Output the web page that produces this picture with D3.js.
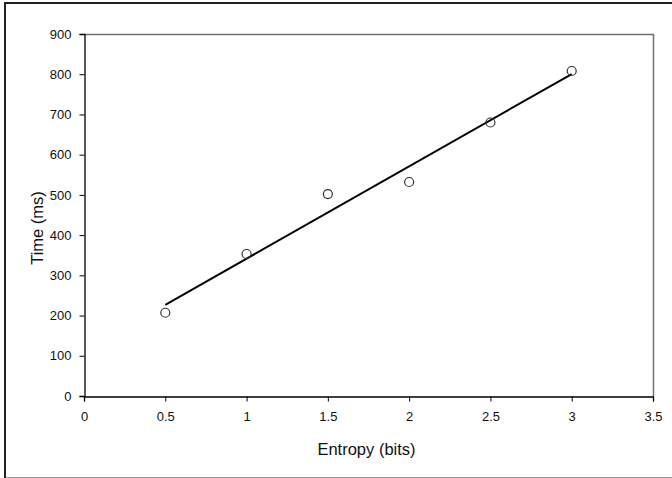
<!DOCTYPE html>
<html>
<head>
<meta charset="utf-8">
<script src="https://cdn.jsdelivr.net/npm/d3@7"></script>
<style>
  body { margin: 0; background: #fff; }
  text { font-family: "Liberation Sans", Arial, sans-serif; }
</style>
</head>
<body>
<svg id="chart" width="672" height="478"></svg>
<script>
// data
const entropy = [0.5, 1, 1.5, 2, 2.5, 3];
const timeMs = [207, 353, 502, 532, 680, 808];
const xTicks = [0, 0.5, 1, 1.5, 2, 2.5, 3, 3.5];
const yTicks = [0, 100, 200, 300, 400, 500, 600, 700, 800, 900];

const svg = d3.select("#chart");
const plot = { left: 84, right: 653, top: 34, bottom: 396 };

const x = d3.scaleLinear().domain([0, 3.5]).range([plot.left, plot.right]);
const y = d3.scaleLinear().domain([0, 900]).range([plot.bottom, plot.top]);

// outer frame of the chart object
svg.append("line").attr("x1", 5).attr("x2", 672).attr("y1", 3).attr("y2", 3)
  .attr("stroke", "#222").attr("stroke-width", 2);
svg.append("line").attr("x1", 5).attr("x2", 5).attr("y1", 2).attr("y2", 478)
  .attr("stroke", "#222").attr("stroke-width", 2);
svg.append("line").attr("x1", 6).attr("x2", 672).attr("y1", 477.5).attr("y2", 477.5)
  .attr("stroke", "#999").attr("stroke-width", 1);

// plot area border (top + right gray)
svg.append("path")
  .attr("d", `M${plot.left},${plot.top + 0.5}H${plot.right + 0.5}V${plot.bottom}`)
  .attr("fill", "none").attr("stroke", "#707070").attr("stroke-width", 1.5);

// axes
const xAxis = svg.append("g")
  .attr("transform", `translate(0,${plot.bottom + 0.5})`)
  .call(d3.axisBottom(x).tickValues(xTicks).tickSize(5).tickPadding(10)
    .tickFormat(d3.format("")));
const yAxis = svg.append("g")
  .attr("transform", `translate(${plot.left + 0.5},0)`)
  .call(d3.axisLeft(y).tickValues(yTicks).tickSize(5).tickPadding(8));

[xAxis, yAxis].forEach(g => {
  g.select(".domain").attr("stroke", "#000").attr("stroke-width", 1.3);
  g.selectAll(".tick line").attr("stroke", "#000");
  g.selectAll(".tick text").attr("font-size", 13).attr("fill", "#111")
    .attr("font-family", "Liberation Sans, Arial, sans-serif");
});

// axis titles
svg.append("text")
  .attr("x", (plot.left + plot.right) / 2 - 2).attr("y", 455)
  .attr("text-anchor", "middle").attr("font-size", 16.5).attr("fill", "#111")
  .text("Entropy (bits)");
svg.append("text")
  .attr("transform", `translate(43,228) rotate(-90)`)
  .attr("text-anchor", "middle").attr("font-size", 16.5).attr("fill", "#111")
  .text("Time (ms)");

// linear trend line (least squares over the points)
const mx = d3.mean(entropy), my = d3.mean(timeMs);
const slope = d3.sum(entropy, (d, i) => (d - mx) * (timeMs[i] - my)) /
  d3.sum(entropy, d => (d - mx) * (d - mx));
const icpt = my - slope * mx;
const ends = d3.extent(entropy);
svg.append("line")
  .attr("x1", x(ends[0])).attr("y1", y(icpt + slope * ends[0]))
  .attr("x2", x(ends[1])).attr("y2", y(icpt + slope * ends[1]))
  .attr("stroke", "#000").attr("stroke-width", 2);

// markers
svg.append("g").selectAll("circle")
  .data(entropy)
  .join("circle")
  .attr("cx", d => x(d))
  .attr("cy", (d, i) => y(timeMs[i]))
  .attr("r", 4.5)
  .attr("fill", "none")
  .attr("stroke", "#333")
  .attr("stroke-width", 1.2);
</script>
</body>
</html>
